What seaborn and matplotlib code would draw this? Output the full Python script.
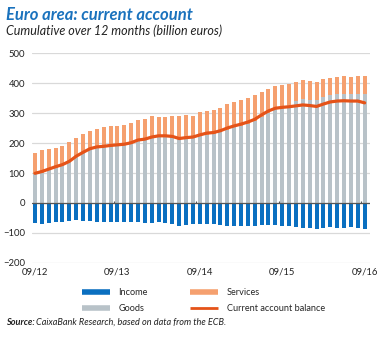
import numpy as np
import pandas as pd
import matplotlib
matplotlib.use("Agg")
import matplotlib.pyplot as plt
from matplotlib.lines import Line2D
import seaborn as sns

# Euro area current account, cumulative over 12 months (billion euros), 09/12 .. 09/16
months = pd.date_range("2012-09-01", "2016-09-01", freq="MS").strftime("%m/%y").tolist()

goods = [96, 101, 109, 118, 126, 139, 156, 170, 180, 184, 187, 188,
         190, 192, 197, 206, 209, 216, 220, 220, 218, 212, 214, 216,
         222, 228, 230, 236, 245, 252, 258, 265, 274, 288, 300, 314,
         323, 328, 340, 348, 344, 342, 353, 361, 364, 362, 364, 364, 362]

services = [71, 75, 71, 66, 65, 64, 62, 61, 61, 64, 65, 68,
            68, 68, 70, 70, 71, 73, 67, 67, 71, 77, 78, 75,
            80, 79, 79, 81, 84, 85, 84, 85, 85, 82, 80, 75,
            70, 68, 62, 61, 62, 61, 61, 57, 56, 60, 56, 58, 60]

income = [-67, -70, -66, -62, -62, -60, -56, -59, -60, -62, -64, -64,
          -64, -64, -64, -64, -66, -66, -64, -66, -69, -76, -74, -71,
          -69, -70, -71, -72, -76, -77, -78, -78, -78, -74, -72, -73,
          -77, -76, -80, -83, -83, -87, -83, -80, -82, -82, -80, -83, -88]

balance = [99, 105, 113, 121, 128, 139, 156, 169, 181, 187, 189, 192,
           194, 196, 201, 210, 213, 220, 224, 224, 222, 215, 218, 220,
           227, 233, 235, 241, 250, 257, 263, 270, 279, 294, 307, 316,
           319, 321, 324, 327, 325, 322, 330, 337, 340, 341, 340, 340, 334]

year_labels = ["09/12", "09/13", "09/14", "09/15", "09/16"]

C_INCOME = "#0a6fc0"
C_GOODS = "#b8c2c8"
C_SERVICES = "#f5a06f"
C_BALANCE = "#e55318"
C_TITLE = "#1a72bd"

df = pd.DataFrame({
    "pos": np.arange(len(months)),
    "month": months,
    "goods": goods,
    "services": services,
    "income": income,
    "balance": balance,
})
df["goods_services"] = df["goods"] + df["services"]

sns.set_theme(style="white")
plt.rcParams["font.family"] = ["Lato", "DejaVu Sans"]

fig = plt.figure(figsize=(3.8, 3.38), dpi=100)
ax = fig.add_axes([0.084, 0.222, 0.89, 0.621])

bw = 0.58
# goods + services stacked: services drawn as the full stack, goods over it
sns.barplot(data=df, x="pos", y="goods_services", color=C_SERVICES, width=bw,
            saturation=1, ax=ax, linewidth=0, zorder=2)
sns.barplot(data=df, x="pos", y="goods", color=C_GOODS, width=bw,
            saturation=1, ax=ax, linewidth=0, zorder=3)
sns.barplot(data=df, x="pos", y="income", color=C_INCOME, width=bw,
            saturation=1, ax=ax, linewidth=0, zorder=3)
sns.lineplot(data=df, x="pos", y="balance", color=C_BALANCE, linewidth=2.3,
             ax=ax, zorder=5)

ax.set_ylim(-200, 500)
ax.set_xlim(-0.45, 48.8)
ax.set_yticks(np.arange(-200, 501, 100))
ax.set_xticks(np.arange(0, len(months), 12))
ax.set_xticklabels(year_labels)
ax.set_xlabel("")
ax.set_ylabel("")
ax.grid(axis="y", color="#d9d9d9", linewidth=0.9, zorder=0)
ax.grid(axis="x", visible=False)
for s in ax.spines.values():
    s.set_visible(False)
ax.axhline(0, color="#555555", linewidth=0.9, zorder=6)
ax.vlines(np.arange(11.5, len(months), 12), 0, 5, color="#555555",
          linewidth=0.8, zorder=6)
ax.tick_params(axis="both", length=0, labelsize=6.8, colors="#222222", pad=3)
ax.tick_params(axis="y", pad=5)

fig.text(0.016, 0.955, "Euro area: current account", fontsize=12,
         fontweight="bold", fontstyle="italic", color=C_TITLE, va="center")
fig.text(0.016, 0.91, "Cumulative over 12 months (billion euros)", fontsize=9,
         fontstyle="italic", color="#222222", va="center")

handles = [
    Line2D([], [], color=C_INCOME, linewidth=4, solid_capstyle="butt"),
    Line2D([], [], color=C_GOODS, linewidth=4, solid_capstyle="butt"),
    Line2D([], [], color=C_SERVICES, linewidth=4, solid_capstyle="butt"),
    Line2D([], [], color=C_BALANCE, linewidth=2, solid_capstyle="butt"),
]
labels = ["Income", "Goods", "Services", "Current account balance"]
fig.legend(handles, labels, ncol=2, loc="center", bbox_to_anchor=(0.535, 0.111),
           frameon=False, fontsize=6.6, handlelength=3.1, handletextpad=0.9,
           columnspacing=4.6, labelspacing=0.75)

src_label = fig.text(0.016, 0.047, "Source:", fontsize=6.6, fontweight="bold",
                     fontstyle="italic", color="#222222", va="center")
fig.canvas.draw()
bb = src_label.get_window_extent(renderer=fig.canvas.get_renderer())
fig.text(bb.x1 / fig.bbox.width + 0.004, 0.047,
         "CaixaBank Research, based on data from the ECB.",
         fontsize=6.6, fontstyle="italic", color="#222222", va="center")

fig.savefig("out.png", dpi=100)
